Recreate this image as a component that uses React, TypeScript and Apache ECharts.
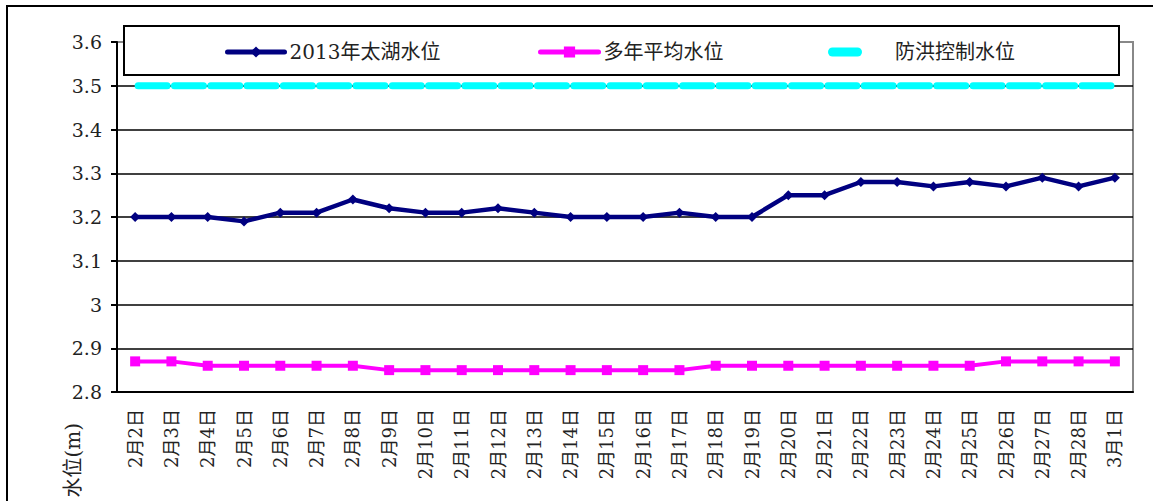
import React, { useEffect, useRef } from "react";
import * as echarts from "echarts";

const categories = [
  "2月2日", "2月3日", "2月4日", "2月5日", "2月6日", "2月7日", "2月8日", "2月9日",
  "2月10日", "2月11日", "2月12日", "2月13日", "2月14日", "2月15日", "2月16日", "2月17日",
  "2月18日", "2月19日", "2月20日", "2月21日", "2月22日", "2月23日", "2月24日", "2月25日",
  "2月26日", "2月27日", "2月28日", "3月1日",
];
const taihu2013 = [
  3.2, 3.2, 3.2, 3.19, 3.21, 3.21, 3.24, 3.22, 3.21, 3.21, 3.22, 3.21, 3.2, 3.2,
  3.2, 3.21, 3.2, 3.2, 3.25, 3.25, 3.28, 3.28, 3.27, 3.28, 3.27, 3.29, 3.27, 3.29,
];
const avgYears = [
  2.87, 2.87, 2.86, 2.86, 2.86, 2.86, 2.86, 2.85, 2.85, 2.85, 2.85, 2.85, 2.85, 2.85,
  2.85, 2.85, 2.86, 2.86, 2.86, 2.86, 2.86, 2.86, 2.86, 2.86, 2.87, 2.87, 2.87, 2.87,
];
const floodControl = categories.map(() => 3.5);
const seriesNames = ["2013年太湖水位", "多年平均水位", "防洪控制水位"];
const yMin = 2.8;
const yMax = 3.6;
const yStep = 0.1;

const MIX = "'DejaVu Serif', 'Noto Sans CJK SC', serif";
const PILL = "path://M4.5,0 H29.5 A4.5,4.5 0 0 1 29.5,9 H4.5 A4.5,4.5 0 0 1 4.5,0 Z";

echarts.registerTheme("waterLevel", {
  textStyle: { fontFamily: MIX, color: "#222" },
  categoryAxis: { axisLabel: { fontFamily: MIX, fontSize: 18, color: "#222" } },
  valueAxis: { axisLabel: { fontFamily: MIX, fontSize: 19, color: "#222" } },
});

export default function App() {
  const ref = useRef<HTMLDivElement>(null);
  useEffect(() => {
    document.body.style.margin = "0";
    if (!ref.current) return;
    const chart = echarts.init(ref.current, "waterLevel", { renderer: "svg" });
    const legendText = { fontFamily: MIX, fontSize: 20, color: "#222" };
    chart.setOption({
      animation: false,
      backgroundColor: "#fff",
      textStyle: { fontFamily: MIX, color: "#222" },
      grid: {
        left: 117,
        right: 20,
        top: 42,
        bottom: 109,
        show: true,
        borderColor: "#888",
        borderWidth: 2,
        backgroundColor: "transparent",
      },
      legend: [
        {
          data: [seriesNames[0]],
          left: 220,
          top: 37,
          itemWidth: 57,
          itemHeight: 14,
          selectedMode: false,
          lineStyle: { width: 5, cap: "round" },
          textStyle: legendText,
          z: 110,
        },
        {
          data: [seriesNames[1]],
          left: 533,
          top: 37,
          itemWidth: 58,
          itemHeight: 14,
          selectedMode: false,
          lineStyle: { width: 5, cap: "round" },
          textStyle: legendText,
          z: 110,
        },
        {
          data: [{ name: seriesNames[2], icon: PILL }],
          left: 823,
          top: 37,
          itemWidth: 34,
          itemHeight: 9,
          selectedMode: false,
          textStyle: { ...legendText, padding: [0, 0, 0, 28] },
          z: 110,
        },
      ],
      xAxis: {
        type: "category",
        data: categories,
        boundaryGap: true,
        axisLine: { lineStyle: { color: "#000", width: 2 } },
        axisTick: { inside: true, length: 8, lineStyle: { color: "#000", width: 2 } },
        axisLabel: {
          show: true,
          rotate: 90,
          interval: 0,
          margin: 17,
          fontFamily: MIX,
          fontSize: 18,
          color: "#222",
        },
      },
      yAxis: {
        type: "value",
        min: yMin,
        max: yMax,
        interval: yStep,
        axisLine: { show: true, lineStyle: { color: "#000", width: 2 } },
        axisTick: { show: true, length: 6, lineStyle: { color: "#000", width: 2 } },
        axisLabel: {
          show: true,
          margin: 15,
          fontFamily: MIX,
          fontSize: 19,
          color: "#222",
        },
        splitLine: {
          show: true,
          showMaxLine: false,
          lineStyle: { color: "#000", width: 1.5 },
        },
      },
      series: [
        {
          name: seriesNames[0],
          type: "line",
          data: taihu2013,
          color: "#000080",
          symbol: "diamond",
          symbolSize: 10,
          lineStyle: { width: 4.5, color: "#000080" },
          itemStyle: { color: "#000080" },
          z: 5,
        },
        {
          name: seriesNames[1],
          type: "line",
          data: avgYears,
          color: "#FF00FF",
          symbol: "rect",
          symbolSize: 10,
          lineStyle: { width: 4, color: "#FF00FF" },
          itemStyle: { color: "#FF00FF" },
          z: 5,
        },
        {
          name: seriesNames[2],
          type: "line",
          data: floodControl,
          color: "#00FFFF",
          symbol: "none",
          lineStyle: { width: 7, color: "#00FFFF", type: [29, 7.3], cap: "round", dashOffset: -3 },
          z: 4,
        },
      ],
      graphic: [
        {
          type: "rect",
          shape: { x: 7, y: 6, width: 1170, height: 520 },
          style: { fill: "none", stroke: "#000", lineWidth: 2 },
          z: 1,
          silent: true,
        },
        {
          type: "rect",
          shape: { x: 124, y: 26, width: 995, height: 49 },
          style: { fill: "#fff", stroke: "#000", lineWidth: 2 },
          z: 100,
          silent: true,
        },
        {
          type: "text",
          x: 73,
          y: 423,
          rotation: Math.PI / 2,
          style: {
            text: "水位(m)",
            align: "right",
            verticalAlign: "middle",
            fontFamily: MIX,
            fontSize: 20,
            fill: "#222",
          },
          z: 100,
        },
      ],
    });
    return () => chart.dispose();
  }, []);
  return <div ref={ref} style={{ width: 1153, height: 501 }} />;
}
